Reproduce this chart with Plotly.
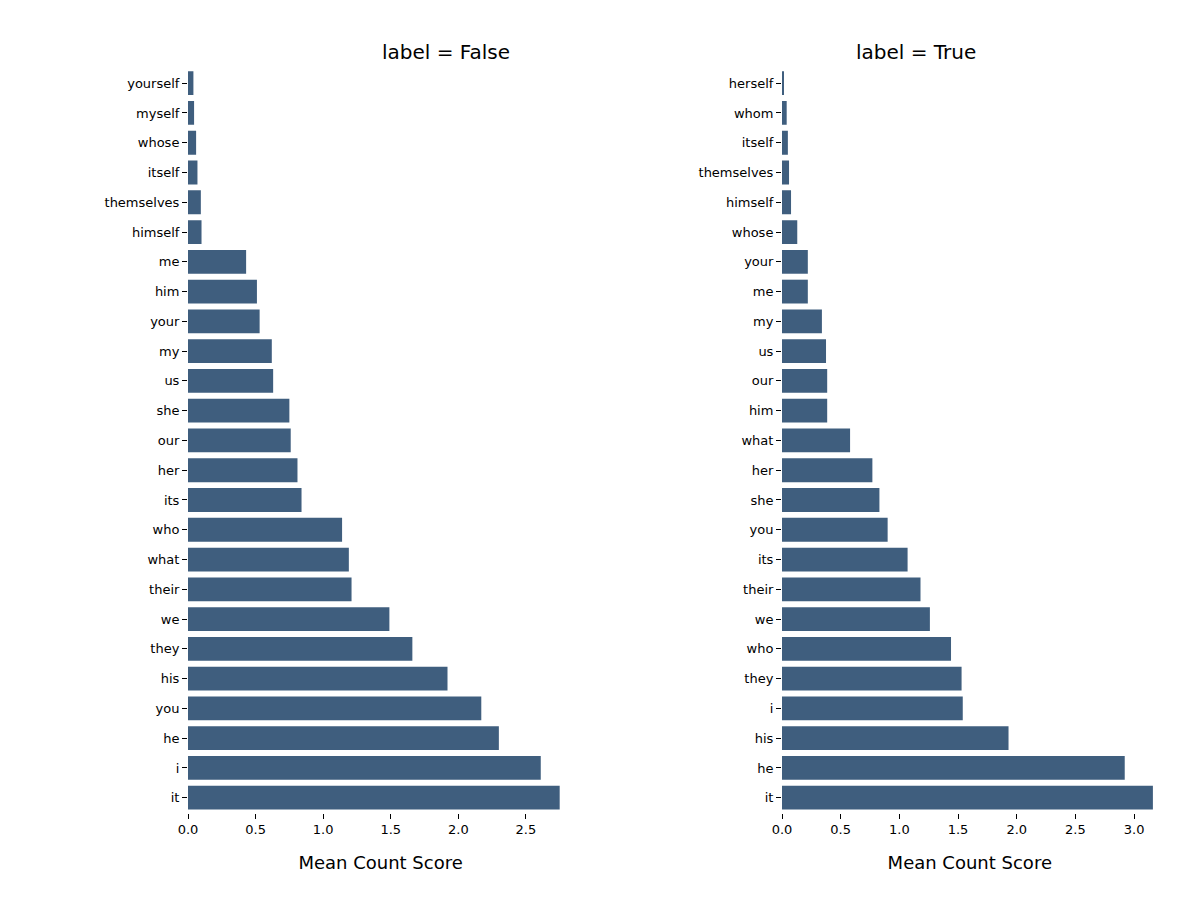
import plotly.graph_objects as go

words_false = ["yourself", "myself", "whose", "itself", "themselves", "himself", "me", "him", "your", "my",
               "us", "she", "our", "her", "its", "who", "what", "their", "we", "they", "his", "you", "he", "i", "it"]
vals_false = [0.04, 0.045, 0.06, 0.07, 0.095, 0.10, 0.43, 0.51, 0.53, 0.62, 0.63, 0.75, 0.76, 0.81, 0.84,
              1.14, 1.19, 1.21, 1.49, 1.66, 1.92, 2.17, 2.30, 2.61, 2.75]

words_true = ["herself", "whom", "itself", "themselves", "himself", "whose", "your", "me", "my", "us", "our",
              "him", "what", "her", "she", "you", "its", "their", "we", "who", "they", "i", "his", "he", "it"]
vals_true = [0.017, 0.04, 0.05, 0.06, 0.077, 0.13, 0.22, 0.22, 0.34, 0.375, 0.385, 0.385, 0.58, 0.77, 0.83,
             0.90, 1.07, 1.18, 1.26, 1.44, 1.53, 1.54, 1.93, 2.92, 3.16]

color = "#3f5e7e"
fig = go.Figure()
fig.add_trace(go.Bar(x=vals_false, y=words_false, orientation="h", marker_color=color,
                     marker_line_width=0, xaxis="x", yaxis="y"))
fig.add_trace(go.Bar(x=vals_true, y=words_true, orientation="h", marker_color=color,
                     marker_line_width=0, xaxis="x2", yaxis="y2"))

font = dict(family="DejaVu Sans", size=13, color="black")
ydom = [0.106, 0.933]
yax = dict(autorange="reversed", showgrid=False, showline=False, ticks="outside", ticklen=5,
           tickcolor="black", zeroline=False, tickfont=font, automargin=False)
xax = dict(showgrid=False, showline=False, zeroline=False, ticks="outside", ticklen=5, tickcolor="black",
           tickfont=font, dtick=0.5, tickformat=".1f", automargin=False,
           title=dict(text="Mean Count Score", font=dict(family="DejaVu Sans", size=18, color="black"),
                      standoff=20))

fig.update_layout(
    width=1200, height=900, showlegend=False, bargap=0.2,
    plot_bgcolor="white", paper_bgcolor="white",
    font=dict(family="DejaVu Sans", color="black"),
    margin=dict(l=0, r=0, t=0, b=0, autoexpand=False),
    xaxis=dict(xax, domain=[0.15, 0.471], range=[0, 2.85], anchor="y"),
    yaxis=dict(yax, domain=ydom, anchor="x"),
    xaxis2=dict(xax, domain=[0.645, 0.958], range=[0, 3.2], anchor="y2"),
    yaxis2=dict(yax, domain=ydom, anchor="x2"),
    annotations=[
        dict(text="label = False", x=0.31, y=1 - 30 / 900, xref="paper", yref="paper", showarrow=False,
             font=dict(family="DejaVu Sans", size=20, color="black")),
        dict(text="label = True", x=0.808, y=1 - 30 / 900, xref="paper", yref="paper", showarrow=False,
             font=dict(family="DejaVu Sans", size=20, color="black")),
    ],
)
fig.write_html("out.html")
